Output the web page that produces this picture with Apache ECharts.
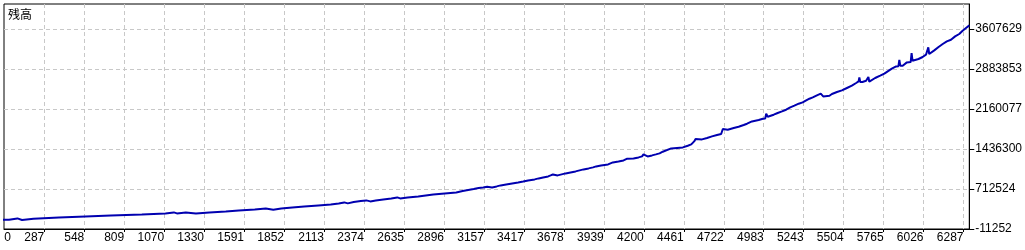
<!DOCTYPE html>
<html>
<head>
<meta charset="utf-8">
<script src="https://cdn.jsdelivr.net/npm/echarts@6/dist/echarts.min.js"></script>
<style>
html,body{margin:0;padding:0;background:#fff;}
#main{width:1025px;height:250px;}
</style>
</head>
<body>
<div id="main"></div>
<script>
// 取引番号 (x) と 残高 (y)
var tradeNo = [0,57,112,142,217,383,556,722,924,1078,1133,1153,1211,1277,1365,1472,1557,1661,1733,1782,1834,1906,1984,2076,2157,2209,2245,2268,2307,2353,2389,2415,2451,2500,2552,2591,2610,2659,2728,2777,2826,2901,2976,3018,3054,3090,3122,3152,3178,3190,3210,3240,3266,3302,3341,3380,3413,3445,3488,3514,3543,3576,3592,3607,3638,3664,3690,3722,3755,3781,3807,3840,3869,3889,3921,3967,3998,4006,4035,4068,4092,4101,4133,4166,4189,4198,4225,4254,4279,4303,4324,4379,4455,4487,4510,
    4529,4538,4544,4551,4580,4613,4645,4678,4705,4716,4722,4748,4787,4819,4852,4874,4906,4950,4977,4993,4999,5009,5048,5074,5102,5129,5156,5183,5211,5237,5260,5281,5303,5330,5355,5364,5371,5379,5412,5428,5461,5493,5526,5558,5586,5602,5607,5613,5627,5651,5660,5666,5672,5684,5710,5743,5770,5792,5819,5847,5862,5868,5874,5890,5917,5942,5948,5954,5966,5993,6020,6042,6051,6057,6063,6075,6096,6124,6151,6178,6205,6232,6259,6281,6303,6325];
var balance = [157000,157000,180500,151600,175100,198600,216700,234800,252900,271000,289100,271000,289100,271000,289100,307200,325300,343400,361500,338000,361500,379600,397700,415800,431000,452000,470100,452000,477300,495400,506200,488200,506200,524300,542400,560500,542400,560500,578600,596700,614800,632900,651000,676300,694400,712500,730600,741500,754100,766800,741500,759600,777700,795800,813900,831900,850000,868100,886200,904300,922400,940500,958600,976700,958600,976700,994800,1012900,1031000,1049100,1067200,1085300,1103400,1121500,1139600,1157600,1193800,1183000,1211900,1230000,1260800,1248100,1266200,1284300,1302400,1338600,1302400,1320500,1338600,1356700,1387400,1447200,1465300,1496000,1519500,
    1573800,1617200,1591900,1591900,1610000,1635300,1664300,1689600,1707700,1798200,1785500,1785500,1816300,1839800,1870600,1894100,1935700,1961000,1984600,1990000,2075000,2020700,2056900,2087700,2116600,2147400,2189000,2219800,2256000,2279500,2315700,2346400,2370000,2406200,2436900,2467700,2388100,2388100,2400000,2431500,2467700,2496600,2540100,2581700,2630500,2659500,2731900,2648600,2648600,2672100,2672100,2739100,2654100,2654100,2721000,2762600,2798800,2840400,2889300,2930900,2935000,3046700,2943600,2943600,3003300,3010000,3173400,3034000,3034000,3064800,3101000,3142600,3145000,3274700,3155300,3155300,3220400,3281900,3336200,3383300,3414000,3473700,3517200,3576900,3625700,3672800];

var xTickLabels = ['0','287','548','809','1070','1330','1591','1852','2113','2374','2635','2896','3157','3417','3678','3939','4200','4461','4722','4983','5243','5504','5765','6026','6287'];
var yTickLabels = ['-11252','712524','1436300','2160077','2883853','3607629'];

var X_MIN = 24.4, X_MAX = 6324.5;
var Y_MIN = -11252, Y_MAX = 4059989;

var xTicks = xTickLabels.slice(1).map(Number);
var xLabelPos = [X_MIN + 46].concat(xTicks);
var yTicks = yTickLabels.map(Number);

var seriesData = [];
for (var i = 0; i < tradeNo.length; i++) {
    seriesData.push([tradeNo[i], balance[i]]);
}

var myChart = echarts.init(document.getElementById('main'));
var font = '"Liberation Sans", Arial, sans-serif';
var option = {
    animation: false,
    backgroundColor: '#fff',
    title: {
        text: '残高',
        left: 8,
        top: 8,
        padding: 0,
        textStyle: {
            fontFamily: '"Noto Sans CJK JP", sans-serif',
            fontSize: 12,
            fontWeight: 'normal',
            color: '#000'
        }
    },
    grid: {
        left: 4,
        right: 55,
        top: 4,
        bottom: 21,
        show: true,
        borderColor: '#000',
        borderWidth: 1,
        containLabel: false
    },
    xAxis: {
        type: 'value',
        min: X_MIN,
        max: X_MAX,
        axisLine: { show: true, onZero: false, lineStyle: { color: '#000', width: 1 } },
        axisTick: { show: true, length: 3, customValues: xTicks, lineStyle: { color: '#000' } },
        axisLabel: {
            customValues: xLabelPos,
            align: 'right',
            margin: 3,
            color: '#000',
            fontFamily: font,
            fontSize: 12,
            formatter: function (v) {
                return v < 100 ? '0' : String(Math.round(v));
            }
        },
        splitLine: { show: true, lineStyle: { color: '#c8c8c8', type: [4, 3], width: 1 } }
    },
    yAxis: {
        type: 'value',
        position: 'right',
        min: Y_MIN,
        max: Y_MAX,
        axisLine: { show: true, onZero: false, lineStyle: { color: '#000', width: 1 } },
        axisTick: { show: true, length: 5, customValues: yTicks, lineStyle: { color: '#000' } },
        axisLabel: {
            customValues: yTicks,
            margin: 6,
            color: '#000',
            fontFamily: font,
            fontSize: 12,
            formatter: function (v) { return String(Math.round(v)); }
        },
        splitLine: { show: true, lineStyle: { color: '#c8c8c8', type: [4, 3], width: 1 } }
    },
    series: [
        {
            name: '残高',
            type: 'line',
            data: seriesData,
            showSymbol: false,
            clip: true,
            lineStyle: { color: '#0000b0', width: 2 },
            itemStyle: { color: '#0000b0' }
        }
    ]
};
myChart.setOption(option);
</script>
</body>
</html>
